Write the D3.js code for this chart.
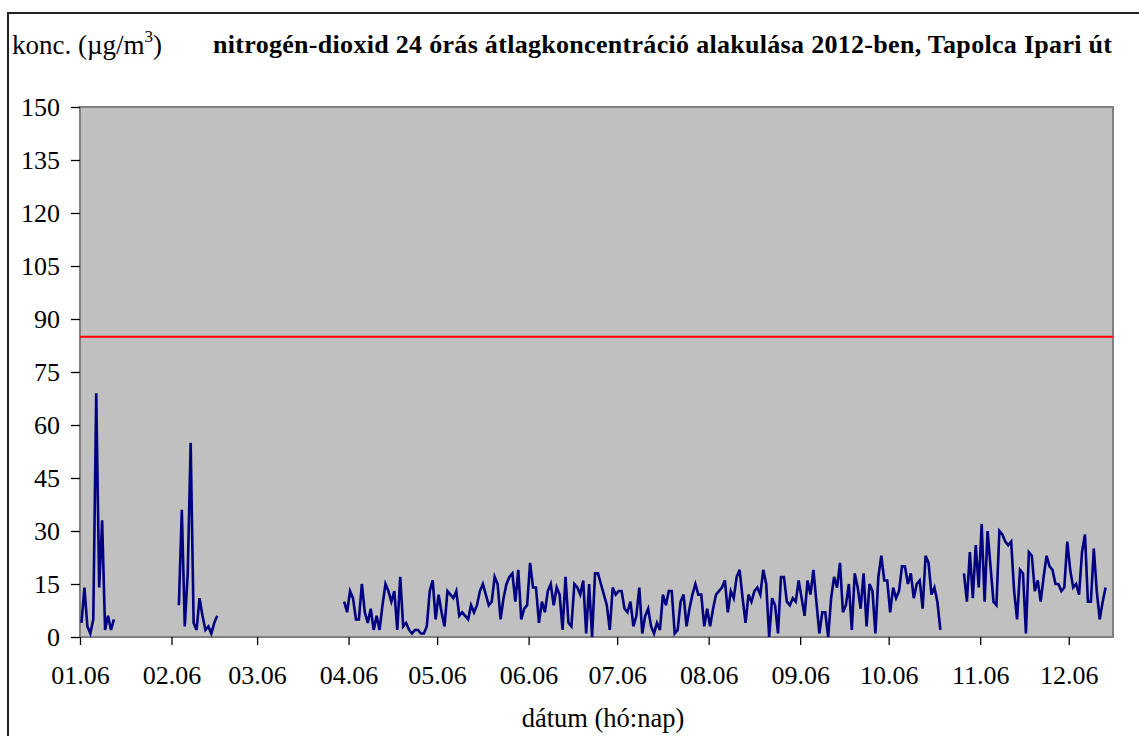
<!DOCTYPE html>
<html>
<head>
<meta charset="utf-8">
<script src="https://cdn.jsdelivr.net/npm/d3@7"></script>
<style>
body { margin: 0; background: #fff; }
svg { display: block; }
text { font-family: "Liberation Serif", "Times New Roman", serif; fill: #000; }
</style>
</head>
<body>
<div id="chart"></div>
<script>
// y axis ticks (µg/m3)
var yTicks = [0, 15, 30, 45, 60, 75, 90, 105, 120, 135, 150];
// x axis ticks (hó.nap)
var monthTicks = ['2012-01-06', '2012-02-06', '2012-03-06', '2012-04-06', '2012-05-06', '2012-06-06',
    '2012-07-06', '2012-08-06', '2012-09-06', '2012-10-06', '2012-11-06', '2012-12-06'];
var axisStart = '2012-01-06';
var axisEnd = '2012-12-21';
// 24 órás határérték
var limitValue = 85;

// daily averages, one array per uninterrupted run of measurements
var run1Start = '2012-01-06';
var run1 = [4, 14, 3, 1, 5, 69, 14, 33, 2, 6, 2, 5];

var run2Start = '2012-02-08';
var run2 = [9, 36, 3, 18, 55, 4, 2, 11, 6, 2, 3, 1, 4, 6];

var run3Start = '2012-04-04';
var run3 = [10, 7, 13, 11, 5, 5, 15, 7, 4, 8,
    2, 6, 2, 9, 15, 13, 10, 13, 2, 17,
    3, 4, 2, 1, 2, 2, 1, 1, 3, 13,
    16, 5, 12, 7, 3, 13, 12, 11, 13, 6,
    7, 6, 5, 9, 7, 9, 13, 15, 12, 9,
    10, 17, 15, 5, 11, 15, 17, 18, 10, 19,
    5, 8, 9, 21, 14, 14, 4, 10, 7, 13,
    15, 9, 14, 12, 2, 17, 4, 3, 15, 14,
    12, 16, 1, 15,
    0, 18, 18, 15, 12, 9, 2, 14, 12, 13,
    13, 8, 7, 10, 3, 6, 14, 1, 6, 8,
    3, 1, 4, 2, 12, 9, 13, 13, 1, 2,
    10, 12, 3, 8, 12, 15, 12, 12, 3, 8,
    3, 8, 12, 13, 14, 16, 7, 13, 11, 17,
    19, 11, 4, 12, 10, 13, 14, 12, 19, 15,
    0, 11, 9, 1, 17, 17, 10, 9, 11, 10,
    16, 11, 6, 16, 12, 19, 10, 1, 7, 7,
    0, 11, 17, 14,
    21, 7, 9, 15, 2, 18, 14, 8, 18, 3,
    15, 13, 1, 17, 23, 16, 16, 7, 14, 11,
    13, 20, 20, 15, 18, 11, 15, 16, 8, 23,
    21, 12, 14, 10, 2];

var run4Start = '2012-10-31';
var run4 = [18, 10, 24, 11, 26, 14, 32, 10, 30, 20,
    10, 9, 30, 29, 27, 26, 27, 13, 5, 19,
    18, 1, 24, 23, 13, 16, 10, 17, 23, 20,
    19, 15, 15, 13, 14, 27, 19, 14, 15, 12,
    24, 29, 10, 10, 25, 13, 5, 10, 14];

var W = 1139, H = 736;
var plot = { left: 80, top: 107, right: 1113, bottom: 637 };
var serif = '"Liberation Serif", "Times New Roman", serif';
var parse = d3.utcParse('%Y-%m-%d');

var svg = d3.select('#chart')
    .append('svg')
    .attr('width', W)
    .attr('height', H);

// outer frame of the chart object (runs off the right and bottom edge)
svg.append('rect')
    .attr('x', 8)
    .attr('y', 13)
    .attr('width', 1300)
    .attr('height', 900)
    .attr('fill', '#fff')
    .attr('stroke', '#222')
    .attr('stroke-width', 2);

var x = d3.scaleUtc()
    .domain([parse(axisStart), parse(axisEnd)])
    .range([plot.left, plot.right]);

var y = d3.scaleLinear()
    .domain([0, 150])
    .range([plot.bottom, plot.top]);

// plot area
svg.append('rect')
    .attr('x', plot.left)
    .attr('y', plot.top)
    .attr('width', plot.right - plot.left)
    .attr('height', plot.bottom - plot.top)
    .attr('fill', '#c0c0c0')
    .attr('stroke', '#808080')
    .attr('stroke-width', 2);

// limit line
svg.append('line')
    .attr('x1', plot.left)
    .attr('x2', plot.right)
    .attr('y1', y(limitValue))
    .attr('y2', y(limitValue))
    .attr('stroke', '#ff0000')
    .attr('stroke-width', 2);

// data
var runs = [[run1Start, run1], [run2Start, run2], [run3Start, run3], [run4Start, run4]];
var line = d3.line()
    .x(function (d) { return x(d.date); })
    .y(function (d) { return y(d.value); });

svg.append('g')
    .selectAll('path')
    .data(runs.map(function (r) {
        var start = parse(r[0]);
        return r[1].map(function (v, i) {
            // points sit in the middle of their day
            return { date: d3.utcHour.offset(d3.utcDay.offset(start, i), 12), value: v };
        });
    }))
    .enter()
    .append('path')
    .attr('d', line)
    .attr('fill', 'none')
    .attr('stroke', '#000080')
    .attr('stroke-width', 2.6)
    .attr('stroke-linejoin', 'miter');

// axes
var yAxis = svg.append('g')
    .attr('transform', 'translate(' + plot.left + ',0)')
    .call(d3.axisLeft(y).tickValues(yTicks).tickSize(9).tickPadding(11).tickFormat(d3.format('d')));

var xAxis = svg.append('g')
    .attr('transform', 'translate(0,' + plot.bottom + ')')
    .call(d3.axisBottom(x).tickValues(monthTicks.map(parse)).tickSize(8).tickPadding(21)
        .tickFormat(d3.utcFormat('%m.%d')));

[yAxis, xAxis].forEach(function (g) {
    g.attr('font-family', serif).attr('font-size', 26);
    g.select('.domain').remove();
    g.selectAll('.tick line').attr('stroke', '#000').attr('stroke-width', 1.3);
    g.selectAll('.tick text')
        .style('font-family', serif)
        .style('font-size', '26px')
        .attr('fill', '#000');
});

// texts
var ylab = svg.append('text')
    .attr('x', 12)
    .attr('y', 54)
    .attr('font-size', '27px');
ylab.append('tspan').text('konc. (\u00b5g/m');
ylab.append('tspan').attr('font-size', '17px').attr('dy', -12).text('3');
ylab.append('tspan').attr('dy', 12).text(')');

svg.append('text')
    .attr('x', 213)
    .attr('y', 53)
    .attr('font-size', '26px')
    .attr('font-weight', 'bold')
    .attr('textLength', 899)
    .text('nitrogén-dioxid 24 órás átlagkoncentráció alakulása 2012-ben, Tapolca Ipari út');

svg.append('text')
    .attr('x', 603)
    .attr('y', 727)
    .attr('text-anchor', 'middle')
    .attr('font-size', '26.5px')
    .text('dátum (hó:nap)');
</script>
</body>
</html>
